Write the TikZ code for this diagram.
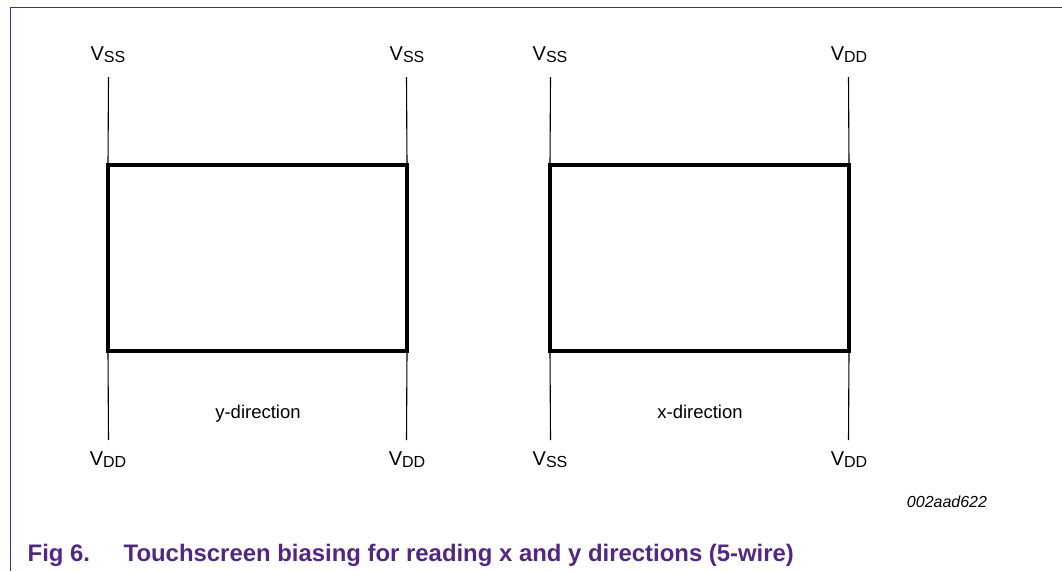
\documentclass[tikz,border=0pt]{standalone}
\usepackage{fontspec}
\setmainfont{Liberation Sans}
\definecolor{nxp}{RGB}{84,38,131}
\newcommand{\vlab}[1]{{\fontsize{20}{20}\selectfont V}\raisebox{-2.5pt}{\fontsize{16}{16}\selectfont #1}}
\begin{document}
\begin{tikzpicture}[x=1pt,y=-1pt,
  panel/.style={draw, line width=3.2pt, minimum width=299pt, minimum height=186pt, inner sep=0pt, outer sep=0pt},
  wire/.style={line width=1.1pt},
  vlabel/.style={anchor=base, inner sep=0pt},
  dirlabel/.style={anchor=base, inner sep=0pt, font=\fontsize{18.5}{18.5}\selectfont},
  captxt/.style={anchor=base west, inner sep=0pt, text=nxp, font=\fontsize{23.9}{23.9}\selectfont\bfseries}]
\useasboundingbox (0,0) rectangle (1062,571);
\draw[nxp, line width=1pt] (10.5,571) -- (10.5,7.5) -- (1062,7.5);

\node[panel] (p1) at (257.5,258) {};
\node[panel] (p2) at (699.5,258) {};

\coordinate (t1) at (108.5,77);
\coordinate (t2) at (406.5,77);
\coordinate (t3) at (550.5,77);
\coordinate (t4) at (848.5,77);
\coordinate (b1) at (108.5,440);
\coordinate (b2) at (406.5,440);
\coordinate (b3) at (550.5,440);
\coordinate (b4) at (848.5,440);

\draw[wire] (p1.north west) -- (t1);
\draw[wire] (p1.north east) -- (t2);
\draw[wire] (p2.north west) -- (t3);
\draw[wire] (p2.north east) -- (t4);
\draw[wire] (p1.south west) -- (b1);
\draw[wire] (p1.south east) -- (b2);
\draw[wire] (p2.south west) -- (b3);
\draw[wire] (p2.south east) -- (b4);

\node[vlabel] (lt1) at (108,60) {\vlab{SS}};
\node[vlabel] (lt2) at (407,60) {\vlab{SS}};
\node[vlabel] (lt3) at (550,60) {\vlab{SS}};
\node[vlabel] (lt4) at (849,60) {\vlab{DD}};
\node[vlabel] (lb1) at (108,465) {\vlab{DD}};
\node[vlabel] (lb2) at (407,465) {\vlab{DD}};
\node[vlabel] (lb3) at (550,465) {\vlab{SS}};
\node[vlabel] (lb4) at (849,465) {\vlab{DD}};

\node[dirlabel] (dy) at (258,418) {y-direction};
\node[dirlabel] (dx) at (700,418) {x-direction};

\node[anchor=base, inner sep=0pt, font=\fontsize{16}{16}\selectfont\itshape] (code) at (947,507) {002aad622};

\node[captxt] (fig) at (27.5,561) {Fig 6.};
\node[captxt] (cap) at (123.5,561) {Touchscreen biasing for reading x and y directions (5-wire)};
\end{tikzpicture}
\end{document}
